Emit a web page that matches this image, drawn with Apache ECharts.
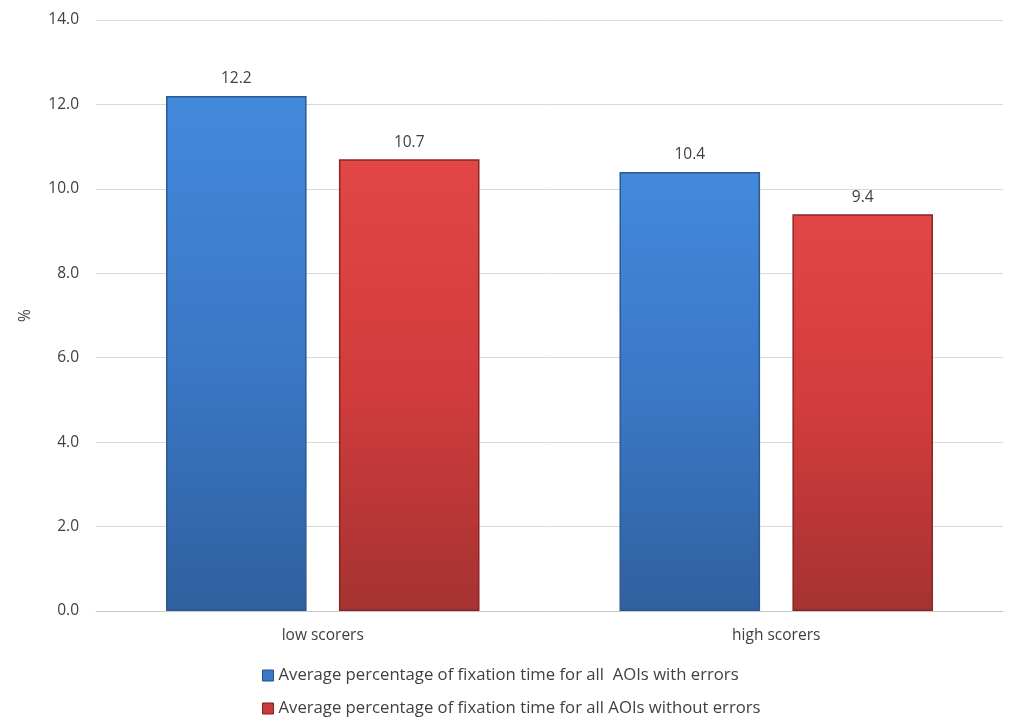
<!DOCTYPE html>
<html>
<head>
<meta charset="utf-8">
<script src="https://cdn.jsdelivr.net/npm/echarts@6/dist/echarts.min.js"></script>
<style>
html,body{margin:0;padding:0;background:#fff;}
#c{width:1013px;height:727px;}
</style>
</head>
<body>
<div id="c"></div>
<script>
var categories = ['low scorers', 'high scorers'];
var withErrors = [12.2, 10.4];
var withoutErrors = [10.7, 9.4];
var seriesNames = ['Average percentage of fixation time for all  AOIs with errors',
                   'Average percentage of fixation time for all AOIs without errors'];

var chart = echarts.init(document.getElementById('c'));
var font = '"Open Sans", Lato, sans-serif';
function grad(top, mid, bot){
  return new echarts.graphic.LinearGradient(0,0,0,1,[
    {offset:0,color:top},{offset:0.5,color:mid},{offset:1,color:bot}]);
}
chart.setOption({
  animation:false,
  textStyle:{fontFamily:font},
  grid:{left:96,right:10,top:20,bottom:116,containLabel:false},
  legend:{
    orient:'vertical', left:257, top:662, itemGap:16,
    itemWidth:11, itemHeight:11, icon:'rect',
    textStyle:{fontSize:16.7,color:'#404040',fontFamily:font},
    data:[
      {name:seriesNames[0], itemStyle:{color:'#3a78c8', borderColor:'#234f88', borderWidth:1}},
      {name:seriesNames[1], itemStyle:{color:'#c93a3a', borderColor:'#7d1f1f', borderWidth:1}}
    ]
  },
  xAxis:{
    type:'category', data:categories,
    axisLine:{lineStyle:{color:'#c8c8c8'}},
    axisTick:{show:false},
    axisLabel:{fontSize:15.5,color:'#404040',margin:17,fontFamily:font}
  },
  yAxis:{
    type:'value', min:0, max:14, interval:2,
    name:'%', nameLocation:'middle', nameGap:62, nameRotate:90,
    nameTextStyle:{fontSize:15.5,color:'#404040',fontFamily:font},
    axisLine:{show:false}, axisTick:{show:false},
    axisLabel:{fontSize:15.5,color:'#404040',margin:17,fontFamily:font,
      formatter:function(v){return v.toFixed(1);}},
    splitLine:{lineStyle:{color:'#d9d9d9'}}
  },
  series:[
    {name:seriesNames[0], type:'bar', data:withErrors, barWidth:'31%', barGap:'23%',
      itemStyle:{color:grad('#4389db','#3b78c6','#30609f'), borderColor:'#2b5a94', borderWidth:1.5},
      label:{show:true, position:'top', distance:9, fontSize:15.5, color:'#404040', fontFamily:font,
        formatter:function(p){return p.value.toFixed(1);}}},
    {name:seriesNames[1], type:'bar', data:withoutErrors, barWidth:'31%',
      itemStyle:{color:grad('#e24646','#d23c3c','#a53232'), borderColor:'#8a2626', borderWidth:1.5},
      label:{show:true, position:'top', distance:9, fontSize:15.5, color:'#404040', fontFamily:font,
        formatter:function(p){return p.value.toFixed(1);}}}
  ]
});
</script>
</body>
</html>
